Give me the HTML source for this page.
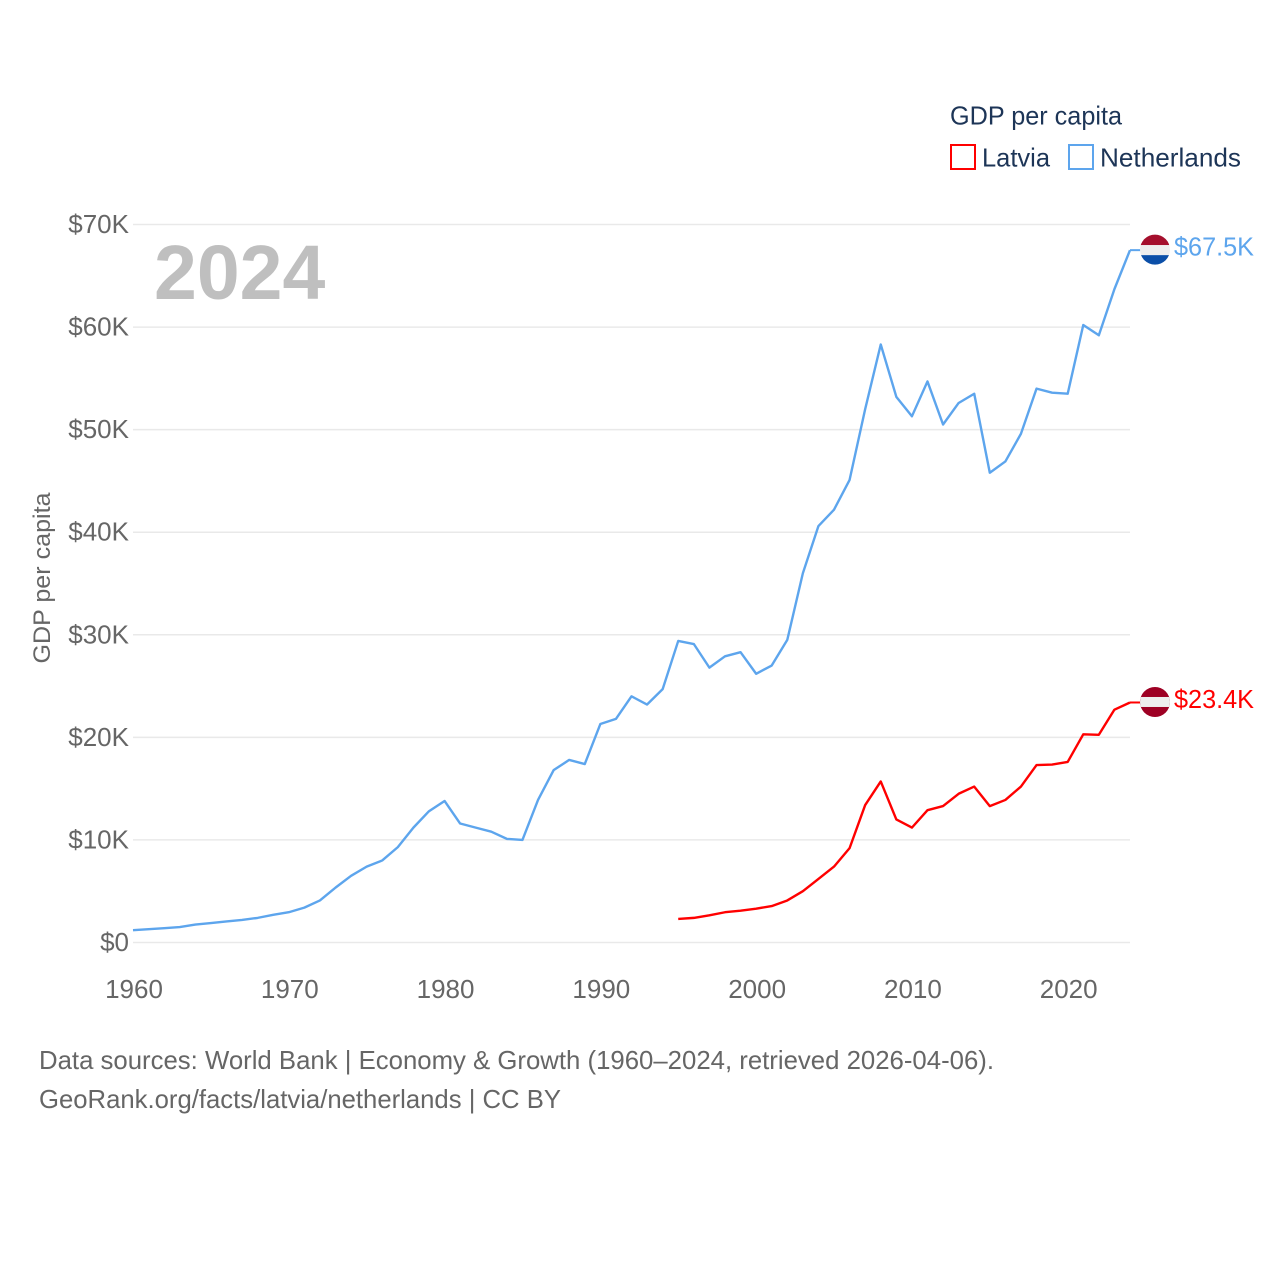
<!DOCTYPE html>
<html lang="en">
<head>
<meta charset="utf-8">
<title>GDP per capita: Latvia and Netherlands</title>
<style>
  html, body { margin: 0; padding: 0; background: #ffffff; }
  svg { display: block; font-family: "Liberation Sans", sans-serif; }
</style>
</head>
<body>
<svg id="chart" width="1280" height="1280" viewBox="0 0 1280 1280" xmlns="http://www.w3.org/2000/svg">
  <defs>
    <clipPath id="flag-nl-clip"><circle id="flag-nl-clip-circle" r="15"></circle></clipPath>
    <clipPath id="flag-lv-clip"><circle id="flag-lv-clip-circle" r="15"></circle></clipPath>
  </defs>
  <g id="grid"></g>
  <g id="y-ticks"></g>
  <g id="x-ticks"></g>
  <text transform="translate(50,578) rotate(-90)" text-anchor="middle" font-size="24" fill="#666666" textLength="171" lengthAdjust="spacingAndGlyphs">GDP per capita</text>
  <text x="154" y="299" font-size="77" font-weight="700" fill="#bfbfbf">2024</text>
  <g id="series"></g>
  <g id="end-labels"></g>
  <g>
    <text x="950" y="124.5" font-size="26" fill="#1d3557" textLength="172" lengthAdjust="spacingAndGlyphs">GDP per capita</text>
    <g>
      <rect x="951" y="145" width="24" height="24" fill="none" stroke="#ff0000" stroke-width="2"></rect>
      <text x="982" y="166.5" font-size="26" fill="#1d3557" textLength="68" lengthAdjust="spacingAndGlyphs">Latvia</text>
    </g>
    <g>
      <rect x="1069" y="145" width="24" height="24" fill="none" stroke="#5da5ed" stroke-width="2"></rect>
      <text x="1100" y="166.5" font-size="26" fill="#1d3557" textLength="141" lengthAdjust="spacingAndGlyphs">Netherlands</text>
    </g>
  </g>
  <text x="39" y="1069" font-size="26" fill="#666666" textLength="955" lengthAdjust="spacingAndGlyphs">Data sources: World Bank | Economy &amp; Growth (1960–2024, retrieved 2026-04-06).</text>
  <text x="39" y="1108" font-size="26" fill="#666666" textLength="522" lengthAdjust="spacingAndGlyphs">GeoRank.org/facts/latvia/netherlands | CC BY</text>
</svg>
<script>
const yTickValues = [0, 10, 20, 30, 40, 50, 60, 70];
const yTickLabels = ["$0", "$10K", "$20K", "$30K", "$40K", "$50K", "$60K", "$70K"];
const xTickYears = [1960, 1970, 1980, 1990, 2000, 2010, 2020];
const netherlandsStartYear = 1960;
const latviaStartYear = 1995;
const netherlandsValues = [
  1.2, 1.3, 1.4, 1.5, 1.75, 1.9, 2.05, 2.2, 2.4, 2.7,
  2.95, 3.4, 4.1, 5.35, 6.5, 7.4, 8.0, 9.3, 11.2, 12.8,
  13.8, 11.6, 11.2, 10.8, 10.1, 10.0, 13.9, 16.8, 17.8, 17.4,
  21.3, 21.8, 24.0, 23.2, 24.7, 29.4, 29.1, 26.8, 27.9, 28.3,
  26.2, 27.0, 29.5, 36.0, 40.6, 42.2, 45.1, 52.0, 58.3, 53.2,
  51.3, 54.7, 50.5, 52.6, 53.5, 45.8, 46.9, 49.6, 54.0, 53.6,
  53.5, 60.2, 59.2, 63.7, 67.5
];
const latviaValues = [
  2.3, 2.4, 2.65, 2.95, 3.1,
  3.3, 3.55, 4.1, 5.0, 6.2, 7.4, 9.2, 13.4, 15.7, 12.0,
  11.2, 12.9, 13.3, 14.5, 15.2, 13.3, 13.9, 15.2, 17.3, 17.35,
  17.6, 20.3, 20.25, 22.7, 23.4
];
const netherlandsEndLabel = "$67.5K";
const latviaEndLabel = "$23.4K";

const NS = "http://www.w3.org/2000/svg";
const plot = { left: 133, right: 1130, top: 224.5, bottom: 942.5 };
const xMin = 1960, xMax = 2024, yMax = 70;
const xScale = year => plot.left + (year - xMin) / (xMax - xMin) * (plot.right - plot.left);
const yScale = value => plot.bottom - value / yMax * (plot.bottom - plot.top);

function make(tag, attrs, parent, text) {
  const el = document.createElementNS(NS, tag);
  for (const key in attrs) el.setAttribute(key, attrs[key]);
  if (text !== undefined) el.textContent = text;
  parent.appendChild(el);
  return el;
}

const gridGroup = document.getElementById("grid");
const yTickGroup = document.getElementById("y-ticks");
const xTickGroup = document.getElementById("x-ticks");
const seriesGroup = document.getElementById("series");
const endGroup = document.getElementById("end-labels");

yTickValues.forEach((value, i) => {
  const gridLine = make("line", { x1: plot.left, x2: plot.right, y1: yScale(value), y2: yScale(value), stroke: "#e9e9e9", "stroke-width": 1.5 }, gridGroup);
  
  
  const tickLabel = make("text", { x: 129, y: yScale(value) + 8.5, "text-anchor": "end", "font-size": 26, fill: "#666666" }, yTickGroup, yTickLabels[i]);
  
  
});

xTickYears.forEach(year => {
  const tickLabel = make("text", { x: xScale(year) + 1, y: 998, "text-anchor": "middle", "font-size": 26, fill: "#666666" }, xTickGroup, String(year));
  
  
});

function linePoints(values, startYear) {
  return values.map((v, i) => xScale(startYear + i).toFixed(2) + "," + yScale(v).toFixed(2)).join(" ");
}

const netherlandsLine = make("polyline", { points: linePoints(netherlandsValues, netherlandsStartYear), fill: "none", stroke: "#5da5ed", "stroke-width": 2.4, "stroke-linejoin": "round" }, seriesGroup);



const latviaLine = make("polyline", { points: linePoints(latviaValues, latviaStartYear), fill: "none", stroke: "#ff0000", "stroke-width": 2.4, "stroke-linejoin": "round" }, seriesGroup);



const nlLast = netherlandsValues[netherlandsValues.length - 1];
const lvLast = latviaValues[latviaValues.length - 1];
const nlY = yScale(nlLast);
const lvY = yScale(lvLast);

const nlConnector = make("line", { x1: plot.right, x2: 1141, y1: nlY, y2: nlY, stroke: "#5da5ed", "stroke-width": 2 }, endGroup);



const lvConnector = make("line", { x1: plot.right, x2: 1141, y1: lvY, y2: lvY, stroke: "#ff0000", "stroke-width": 2 }, endGroup);



const flagCx = 1155;
const nlClip = document.getElementById("flag-nl-clip-circle");
nlClip.setAttribute("cx", flagCx);
nlClip.setAttribute("cy", nlY - 0.5);
const lvClip = document.getElementById("flag-lv-clip-circle");
lvClip.setAttribute("cx", flagCx);
lvClip.setAttribute("cy", lvY - 0.5);

const nlFlag = make("g", { "clip-path": "url(#flag-nl-clip)" }, endGroup);


make("rect", { x: flagCx - 15, y: nlY - 16, width: 30, height: 11, fill: "#a50f2d" }, nlFlag);
make("rect", { x: flagCx - 15, y: nlY - 5, width: 30, height: 10, fill: "#eeeeee" }, nlFlag);
make("rect", { x: flagCx - 15, y: nlY + 5, width: 30, height: 11, fill: "#0b4fa8" }, nlFlag);

const lvFlag = make("g", { "clip-path": "url(#flag-lv-clip)" }, endGroup);


make("rect", { x: flagCx - 15, y: lvY - 16, width: 30, height: 31, fill: "#9e0024" }, lvFlag);
make("rect", { x: flagCx - 15, y: lvY - 5.5, width: 30, height: 10, fill: "#eeeeee" }, lvFlag);

const nlLabel = make("text", { x: 1174, y: nlY + 5.5, "font-size": 26, fill: "#5da5ed", textLength: 80, lengthAdjust: "spacingAndGlyphs" }, endGroup, netherlandsEndLabel);



const lvLabel = make("text", { x: 1174, y: lvY + 5.5, "font-size": 26, fill: "#ff0000", textLength: 80, lengthAdjust: "spacingAndGlyphs" }, endGroup, latviaEndLabel);


</script>
</body>
</html>
